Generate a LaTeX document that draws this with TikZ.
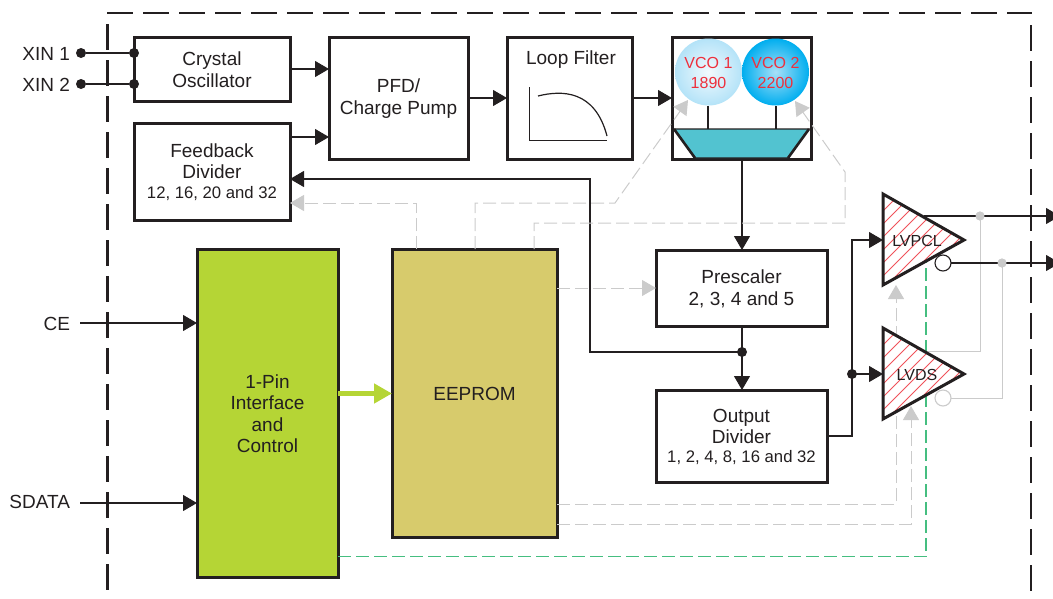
\documentclass[tikz,border=0pt]{standalone}
\usepackage{fontspec}
\setmainfont{Liberation Sans}
\usetikzlibrary{arrows.meta,calc}
\definecolor{ink}{HTML}{231F20}
\definecolor{graya}{HTML}{CBCBCB}
\definecolor{limeb}{HTML}{B5D535}
\definecolor{oliveb}{HTML}{D7CB6C}
\definecolor{tealb}{HTML}{52C3D0}
\definecolor{greenl}{HTML}{45BE80}
\definecolor{redt}{HTML}{EE2F3C}
\definecolor{hatch}{HTML}{F0525A}
\definecolor{vcoa}{HTML}{F2FAFE}
\definecolor{vcob}{HTML}{B4E3F8}
\definecolor{vcoc}{HTML}{A8E0F7}
\definecolor{vcod}{HTML}{00AEEF}
\newcommand{\bigf}{\fontsize{19}{21.5}\selectfont}
\newcommand{\smallf}{\fontsize{16.7}{19.5}\selectfont}
\newcommand{\pushdown}[1]{\rule{0pt}{#1}}
\tikzset{
  x=1pt,y=-1pt,
  every node/.style={font=\bigf,text=ink,inner sep=0pt,outer sep=0pt},
  blockbox/.style={draw=ink,line width=3pt,fill=white,align=center,anchor=center},
  thin line/.style={draw=ink,line width=1.05pt},
  tipk/.style={-{Triangle[length=14pt,width=16pt,fill=ink,color=ink]}},
  tipg/.style={-{Triangle[length=14pt,width=16pt,fill=graya,color=graya]}},
  sigdash/.style={draw=graya,line width=1pt,dash pattern=on 13pt off 5pt},
  sigsolid/.style={draw=graya,line width=1pt},
  greendash/.style={draw=greenl,line width=1.5pt,dash pattern=on 13pt off 5pt},
  frame/.style={draw=ink,line width=2.4pt,dash pattern=on 26pt off 10pt},
  blob/.style={circle,fill=ink,minimum size=10pt},
  grayblob/.style={circle,fill=graya,minimum size=9pt},
  ampnode/.style={font=\fontsize{16}{18}\selectfont},
  vcotext/.style={font=\fontsize{16}{20}\selectfont,text=redt,align=center},
}
\begin{document}
\begin{tikzpicture}
\useasboundingbox (0,0) rectangle (1053,598);
\clip (0,0) rectangle (1053,598);
% outer frame
\coordinate (ftl) at (107,13);
\coordinate (ftr) at (1032,13);
\coordinate (fll) at (107.5,24);
\coordinate (flb) at (107.5,592);
\coordinate (frt) at (1031,25);
\coordinate (frb) at (1031,592);
\draw[frame] (ftl) -- (ftr);
\draw[frame] (fll) -- (flb);
\draw[frame] (frt) -- (frb);

% blocks
\node[blockbox,minimum width=156pt,minimum height=64pt] (xo) at (212,69) {\pushdown{15pt}Crystal\\Oscillator};
\node[blockbox,minimum width=156pt,minimum height=97pt] (fb) at (212,171.5) {\pushdown{15pt}Feedback\\Divider\\[-1.5pt]{\smallf 12, 16, 20 and 32}};
\node[blockbox,minimum width=139pt,minimum height=122pt] (pfd) at (398.5,98) {\pushdown{15pt}PFD/\\Charge Pump};
\node[blockbox,minimum width=125pt,minimum height=122pt] (lf) at (569.5,98) {};
\node (lft) at (571,59.5) {Loop Filter};
\node[blockbox,minimum width=139pt,minimum height=122pt] (vco) at (741.5,98) {};
\node[blockbox,minimum width=171pt,minimum height=76pt] (pre) at (741.5,288) {\pushdown{15pt}Prescaler\\2, 3, 4 and 5};
\node[blockbox,minimum width=171pt,minimum height=92pt] (od) at (741.5,436) {\pushdown{15pt}Output\\Divider\\[-2.5pt]{\smallf 1, 2, 4, 8, 16 and 32}};
\node[blockbox,fill=limeb,minimum width=141pt,minimum height=328pt] (pin) at (267.5,413) {\pushdown{15pt}1-Pin\\Interface\\and\\Control};
\node[blockbox,fill=oliveb,minimum width=165pt,minimum height=288pt] (ee) at (474.5,393.5) {EEPROM};

% loop filter graph
\coordinate (gt) at (529,87);
\coordinate (go) at (529,140);
\coordinate (gr) at (607,140);
\draw[draw=ink,line width=1pt] (gt) -- (go) -- (gr);
\draw[draw=ink,line width=1.2pt] (538,96) .. controls (562,90) and (595,90) .. (607,136);

% VCO internals
\shade[inner color=vcoa,outer color=vcob] (708.5,72) circle (33.5);
\shade[inner color=vcoc,outer color=vcod] (775.5,72) circle (33.5);
\node[vcotext] (v1) at (708.5,72.5) {VCO 1\\1890};
\node[vcotext] (v2) at (775.5,72.5) {VCO 2\\2200};
\coordinate (m1) at (708,129);
\coordinate (m2) at (776,129);
\draw[thin line] (708,106) -- (m1);
\draw[thin line] (776,106) -- (m2);
\draw[draw=ink,line width=1.3pt,fill=tealb] (674,129) -- (809,129) -- (788,158) -- (695,158) -- cycle;
\draw[draw=ink,line width=2.6pt] (674,129) -- (695,158) (809,129) -- (788,158);

% input labels
\node[anchor=east] (xin1) at (70,53.5) {XIN 1};
\node[anchor=east] (xin2) at (70,84.5) {XIN 2};
\node[anchor=east] (ce) at (70,323.5) {CE};
\node[anchor=east] (sd) at (70,501.5) {SDATA};
\node[blob] (d1) at (81,53) {};
\node[blob] (d2) at (81,84) {};
\node[blob] (d3) at (134,53) {};
\node[blob] (d4) at (134,84) {};
\draw[thin line] (d1) -- (d3);
\draw[thin line] (d2) -- (d4);
\coordinate (cein) at (80,323);
\coordinate (sdin) at (80,503);
\draw[thin line,tipk] (cein) -- (cein -| pin.west);
\draw[thin line,tipk] (sdin) -- (sdin -| pin.west);

% top signal chain
\draw[thin line,tipk] (xo.east) -- (xo.east -| pfd.west);
\coordinate (fbo) at (290,137);
\draw[thin line,tipk] (fbo) -- (fbo -| pfd.west);
\draw[thin line,tipk] (pfd.east) -- (lf.west);
\draw[thin line,tipk] (lf.east) -- (vco.west);

% black lines
\coordinate (vcob) at (742,159);
\draw[thin line,tipk] (vcob) -- (vcob |- pre.north);
\coordinate (pb) at (742,326);
\draw[thin line,tipk] (pb) -- (pb |- od.north);
\node[blob] (j1) at (742,352) {};
\coordinate (fbc) at (590,352);
\coordinate (fbu) at (590,179);
\draw[thin line,tipk] (j1.center) -- (fbc) -- (fbu) -- (fbu -| fb.east);

% gray dashed control signals
\coordinate (e1) at (416,249);
\coordinate (e1b) at (416,203);
\draw[sigdash,tipg] (e1) -- (e1b) -- (e1b -| fb.east);
\coordinate (e2) at (475,249);
\coordinate (e2b) at (475,203);
\coordinate (e2c) at (615,203);
\coordinate (e2t) at (688,100);
\draw[sigdash,tipg] (e2) -- (e2b) -- (e2c) -- (e2t);
\coordinate (e3) at (534,249);
\coordinate (e3b) at (534,223);
\coordinate (e3c) at (845,223);
\coordinate (e3d) at (845,172);
\coordinate (e3t) at (795,101);
\draw[sigdash,tipg] (e3) -- (e3b) -- (e3c) -- (e3d) -- (e3t);
\coordinate (e4) at (557,288);
\draw[sigdash,tipg] (e4) -- (e4 -| pre.west);
\coordinate (e5) at (557,504);
\coordinate (e5b) at (896,504);
\coordinate (e5t) at (896,285);
\draw[sigdash,tipg] (e5) -- (e5b) -- (e5t);
\coordinate (e6) at (557,524);
\coordinate (e6b) at (911,524);
\coordinate (e6t) at (911,406);
\draw[sigdash,tipg] (e6) -- (e6b) -- (e6t);

% green enable line
\coordinate (g1) at (338,556.5);
\coordinate (g2) at (926,556.5);
\coordinate (g3) at (926,262);
\draw[greendash] (g1) -- (g2) -- (g3);

% lime arrow
\draw[draw=limeb,line width=5pt,-{Triangle[length=18pt,width=19pt,fill=limeb,color=limeb]}] (pin.east |- ee.west) -- (ee.west);

% gray solid LVDS outputs
\node[grayblob] (o1) at (980,216) {};
\node[grayblob] (o2) at (1002,263) {};
\coordinate (o1b) at (980,351);
\coordinate (o1c) at (926,351);
\draw[sigsolid] (o1.center) -- (o1b) -- (o1c);
\coordinate (o2b) at (1002,398);
\node[circle,draw=graya,line width=1.1pt,fill=white,minimum size=16pt] (b2) at (943,398) {};
\draw[sigsolid] (o2.center) -- (o2b) -- (b2.east);

% drivers
\coordinate (a1t) at (883,194);
\coordinate (a1b) at (883,285);
\coordinate (a1a) at (964,240);
\coordinate (a2t) at (883,328);
\coordinate (a2b) at (883,419);
\coordinate (a2a) at (964,374);
\fill[white] (a1t) -- (a1a) -- (a1b) -- cycle;
\fill[white] (a2t) -- (a2a) -- (a2b) -- cycle;
\begin{scope}
\clip (a1t) -- (a1a) -- (a1b) -- cycle;
\foreach \k in {0,...,12} \draw[hatch,line width=.8pt] (875,{206+\k*13}) -- ++(100,-100);
\end{scope}
\begin{scope}
\clip (a2t) -- (a2a) -- (a2b) -- cycle;
\foreach \k in {0,...,12} \draw[hatch,line width=.8pt] (875,{340+\k*13}) -- ++(100,-100);
\end{scope}
\draw[draw=ink,line width=3pt,line join=miter] (a1t) -- (a1a) -- (a1b) -- cycle;
\draw[draw=ink,line width=3pt,line join=miter] (a2t) -- (a2a) -- (a2b) -- cycle;
\node[ampnode] (lvpcl) at (917,241) {LVPCL};
\node[ampnode] (lvds) at (917,375) {LVDS};
\node[circle,draw=ink,line width=1.1pt,fill=white,minimum size=16pt] (b1) at (943,263) {};

% outputs
\coordinate (o1s) at (924,216);
\coordinate (o1e) at (1060,216);
\coordinate (o2e) at (1060,263);
\draw[thin line,tipk] (o1s) -- (o1e);
\draw[thin line,tipk] (b1.east) -- (o2e);
\node[grayblob] at (o1) {};
\node[grayblob] at (o2) {};

% divider to drivers
\node[blob] (j2) at (852,374) {};
\coordinate (dv) at (852,436);
\coordinate (du) at (852,240);
\draw[thin line] (od.east) -- (dv) -- (j2.center);
\draw[thin line,tipk] (j2.center) -- (du) -- (a1t |- du);
\draw[thin line,tipk] (j2.center) -- (a2t |- j2);
\end{tikzpicture}
\end{document}
